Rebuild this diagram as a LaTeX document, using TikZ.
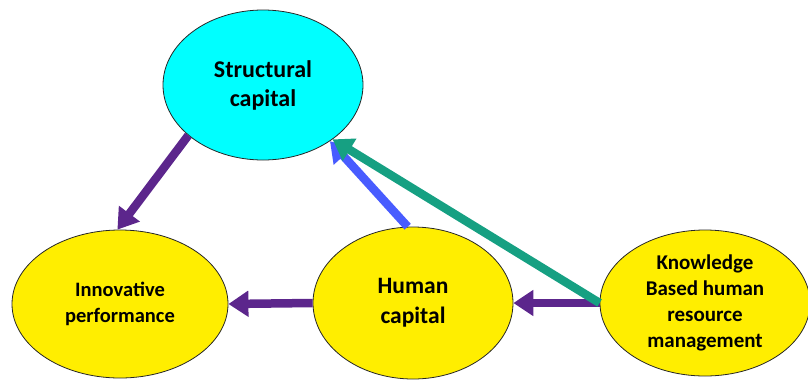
\documentclass[tikz,border=0pt]{standalone}
\usepackage{fontspec}
\setmainfont{Carlito}
\usepackage{xcolor}
\usepackage{tikz}
\usetikzlibrary{shapes.geometric}
\usetikzlibrary{arrows.meta}
\definecolor{scyan}{RGB}{0,255,255}
\definecolor{syellow}{RGB}{255,238,0}
\definecolor{spurple}{RGB}{92,38,140}
\definecolor{sblue}{RGB}{72,92,255}
\definecolor{sgreen}{RGB}{22,160,130}
\tikzset{
bubble/.style={
  ellipse,
  draw=black!85,
  line width=0.8pt,
  inner sep=0pt,
  align=center,
  font=\bfseries
},
link/.style={
  line width=8.5pt,
  -{Triangle[width=25pt,length=20pt]}
},
}

\begin{document}
\begin{tikzpicture}[x=1pt,y=-1pt]
\useasboundingbox (0,0) rectangle (808,381);
% the ellipses
\node (sc) [bubble,fill=scyan,minimum width=200pt,minimum height=150pt,
  font=\bfseries\fontsize{24}{29}\selectfont] at (263,85) {Structural\\capital};
\node (ip) [bubble,fill=syellow,minimum width=216pt,minimum height=148pt,
  font=\bfseries\fontsize{20.5}{26}\selectfont] at (120,304) {Innovative\\performance};
\node (hc) [bubble,fill=syellow,minimum width=200pt,minimum height=152pt,
  font=\bfseries\fontsize{23.5}{30}\selectfont] at (413,303) {Human\\capital};
\node (kb) [bubble,fill=syellow,minimum width=210pt,minimum height=146pt,
  font=\bfseries\fontsize{21}{26}\selectfont] at (705,303) {Knowledge\\Based human\\resource\\management};
% the arrows
\draw [link,spurple] (sc.-146) -- (ip.92);
\draw [link,spurple] (hc.west) -- (ip.east);
\draw [link,spurple] (kb.west) -- (hc.east);
\draw [link,sblue] (hc.94) -- (sc.-40);
\draw [link,sgreen] (kb.west) -- (sc.-38);
\end{tikzpicture}
\end{document}
